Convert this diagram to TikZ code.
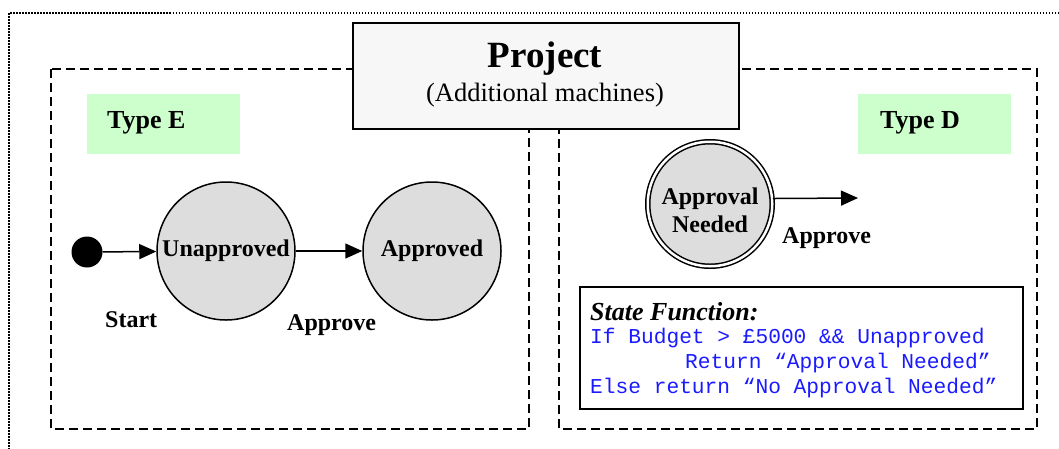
\documentclass[tikz,border=0pt]{standalone}
\usepackage{fontspec}
\setmainfont{Liberation Serif}
\setmonofont{Liberation Mono}
\usetikzlibrary{arrows.meta}
\definecolor{labelgreen}{HTML}{CCFFCC}
\definecolor{stategray}{HTML}{DDDDDD}
\definecolor{titlegray}{HTML}{F7F7F7}
\definecolor{codeblue}{HTML}{1A1AFF}
\tikzset{
  frame/.style={line width=1.5pt, dash pattern=on 1.5pt off 1.5pt},
  region/.style={line width=2pt, dash pattern=on 9pt off 5pt},
  titlebox/.style={draw, line width=2pt, fill=titlegray},
  typebox/.style={fill=labelgreen, minimum width=153pt, minimum height=60pt, inner sep=0pt},
  typetext/.style={font=\fontsize{26}{30}\selectfont\bfseries, anchor=base west, inner sep=0pt},
  state/.style={circle, draw, line width=1.5pt, fill=stategray, minimum size=138pt, inner sep=0pt,
    font=\fontsize{24}{28}\selectfont\bfseries},
  label/.style={font=\fontsize{24}{28}\selectfont\bfseries, anchor=base west, inner sep=0pt},
  arr/.style={line width=1.5pt, -{Triangle[length=17pt, width=15pt]}},
  codeline/.style={font=\fontsize{21.2}{25}\ttfamily, text=codeblue, anchor=base west, inner sep=0pt},
}
\begin{document}
\begin{tikzpicture}[x=1pt, y=-1pt]
\useasboundingbox (0,0) rectangle (1059,448);

% outer dotted frame (runs past the right and bottom edges)
\draw[frame] (1062,13) -- (9,13) -- (9,451);

% the two dashed regions
\draw[region] (51,69) rectangle (529,429);
\draw[region] (559,69) rectangle (1037,429);

% title box
\node[titlebox, minimum width=386pt, minimum height=106pt, anchor=north west] (title) at (352,22) {};
\node[font=\fontsize{37}{40}\selectfont\bfseries, anchor=base, inner sep=0pt] (project) at (545,67) {Project};
\node[font=\fontsize{26.5}{30}\selectfont, anchor=base, inner sep=0pt] (subtitle) at (545,101) {(Additional machines)};

% Type E
\node[typebox, anchor=north west] (typeE) at (87,94) {};
\node[typetext] (typeEtext) at (107,128) {Type E};

\node[circle, fill=black, minimum size=31pt, inner sep=0pt] (start) at (87,252) {};
\node[state] (unapproved) at (226,251) {Unapproved};
\node[state] (approved) at (432,251) {Approved};
\draw[arr] (start) -- (unapproved);
\draw[arr] (unapproved) -- (approved);
\node[label] (startlbl) at (105,327) {Start};
\node[label] (approvelbl) at (287,330) {Approve};

% Type D
\node[typebox, anchor=north west] (typeD) at (858,94) {};
\node[typetext] (typeDtext) at (880,128) {Type D};

\node[circle, draw, line width=1.5pt, double=white, double distance=2.5pt, fill=stategray,
  minimum size=124.5pt, inner sep=0pt] (needed) at (710,204) {};
\node[align=center, inner sep=0pt, font=\fontsize{24}{28}\selectfont\bfseries] (neededtext) at (710,210) {Approval\\Needed};
\coordinate (out) at (858,198);
\draw[arr] (needed.5) -- (out);
\node[label] (approveD) at (782,243) {Approve};

% state function box
\draw[line width=2pt] (580,287) rectangle (1023,409);
\node[font=\fontsize{26}{30}\selectfont\bfseries\itshape, anchor=base west, inner sep=0pt] (sfhead) at (590,320) {State Function:};
\node[codeline] (code1) at (590,343) {If Budget > £5000 \&\& Unapproved};
\node[codeline] (code2) at (685,368) {Return “Approval Needed”};
\node[codeline] (code3) at (590,393) {Else return “No Approval Needed”};
\end{tikzpicture}
\end{document}
